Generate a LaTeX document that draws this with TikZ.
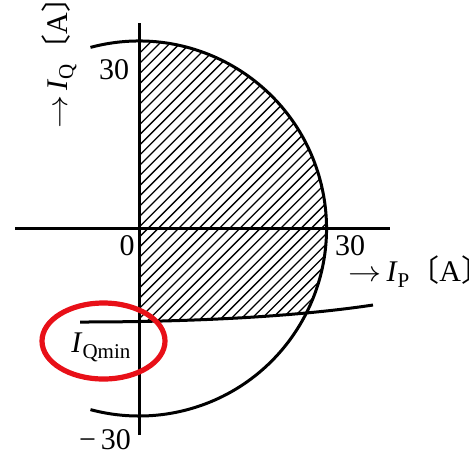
\documentclass[tikz,border=0pt]{standalone}
\usepackage{fontspec}
\setmainfont{Liberation Serif}
\newfontfamily\cjk{Noto Sans CJK JP}
\newcommand{\lowsub}[1]{\raisebox{-0.45ex}{\fontsize{10.5}{11}\selectfont #1}}
\newcommand{\longarr}{\scalebox{1.15}[1]{$\rightarrow$}}
\definecolor{ringred}{RGB}{232,16,24}
\begin{document}
\begin{tikzpicture}[x=0.5pt,y=0.5pt,
  axis/.style={line width=1.5pt},
  curve/.style={line width=1.5pt},
  hatchline/.style={line width=0.65pt},
  lbl/.style={font=\fontsize{15}{17}\selectfont, inner sep=0pt},
  redring/.style={draw=ringred, line width=2.6pt}]
\useasboundingbox (0,0) rectangle (469,452);
\coordinate (C) at (139,223.5);
% hatching
\begin{scope}
  \clip (139,0) rectangle (469,452);
  \clip (C) circle[radius=187.5];
  \clip (80,130) .. controls (200,130) and (300,136) .. (373,147) -- (469,147) -- (469,452) -- (80,452) -- cycle;
  \foreach \c in {-300,-289.8,...,220} \draw[hatchline] (\c,0) -- ++(460,460);
\end{scope}
% axes
\coordinate (xs) at (15,223.5);
\coordinate (xe) at (390,223.5);
\coordinate (ys) at (139,17);
\coordinate (ye) at (139,429);
\draw[axis] (xs) -- (xe);
\draw[axis] (ys) -- (ye);
% circle arc
\draw[curve] (C) ++(105:187.5) arc[start angle=105, end angle=-105, radius=187.5];
% IQmin curve
\coordinate (qa) at (80,130);
\coordinate (qb) at (373,147);
\draw[curve] (qa) .. controls (200,130) and (300,136) .. (qb);
% labels
\node[lbl] (t30) at (114,382) {30};
\node[lbl] (z) at (127,206) {0};
\node[lbl] (r30) at (350,206) {30};
\node[lbl] (m30) at (105,12) {−\,30};
\node[lbl, anchor=base west] (ip) at (348,171) {\longarr\,\textit{I}\lowsub{P}{\cjk 〔}A{\cjk 〕}};
\node[lbl, anchor=base west, rotate=90] (iq) at (67,323) {\longarr\,\textit{I}\lowsub{Q}{\cjk 〔}A{\cjk 〕}};
\node[lbl, anchor=base west] (iqmin) at (71,100) {\textit{I}\lowsub{Qmin}};
% red ring
\draw[redring] (103.5,111) ellipse[x radius=61.5, y radius=38];
\end{tikzpicture}
\end{document}
